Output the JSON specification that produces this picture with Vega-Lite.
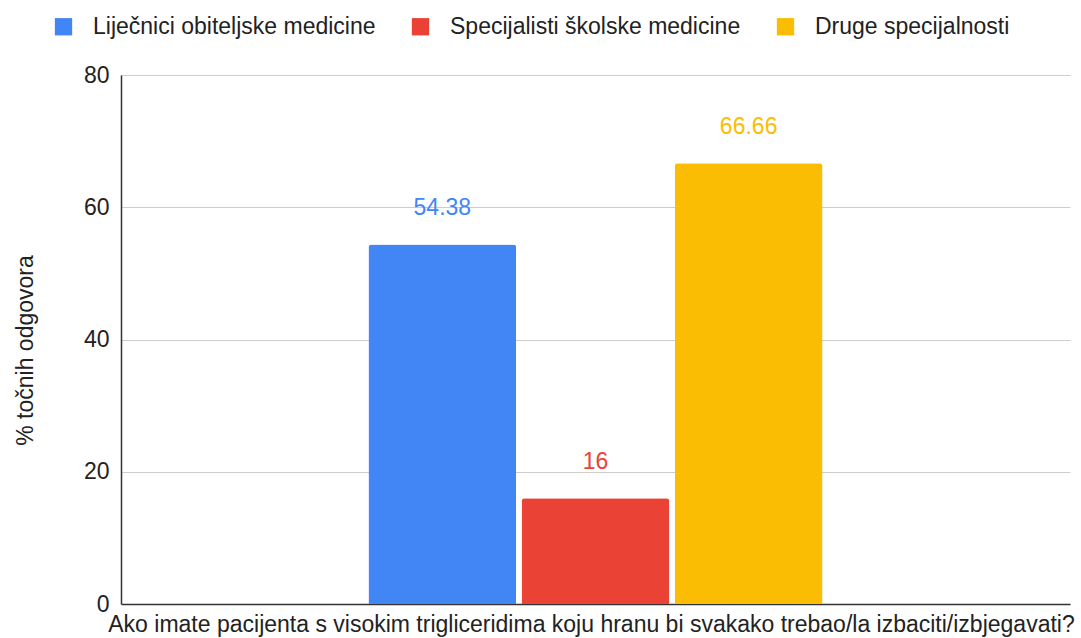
{
  "$schema": "https://vega.github.io/schema/vega-lite/v6.json",
  "width": 949,
  "height": 529,
  "autosize": "none",
  "padding": {"left": 121, "top": 75, "right": 11, "bottom": 34},
  "background": "white",
  "config": {
    "font": "Liberation Sans",
    "view": {"stroke": null}
  },
  "data": {
    "values": [
      {"pitanje": "Q", "skupina": "Liječnici obiteljske medicine", "postotak": 54.38, "oznaka": "54.38"},
      {"pitanje": "Q", "skupina": "Specijalisti školske medicine", "postotak": 16, "oznaka": "16"},
      {"pitanje": "Q", "skupina": "Druge specijalnosti", "postotak": 66.66, "oznaka": "66.66"}
    ]
  },
  "encoding": {
    "x": {
      "field": "pitanje",
      "type": "nominal",
      "scale": {"paddingInner": 0, "paddingOuter": 0.545},
      "axis": {
        "labels": false,
        "ticks": false,
        "domain": true,
        "domainColor": "#333333",
        "domainWidth": 1.5,
        "title": "Ako imate pacijenta s visokim trigliceridima koju hranu bi svakako trebao/la izbaciti/izbjegavati?",
        "titleFont": "Liberation Sans",
        "titleFontSize": 23,
        "titleFontWeight": "normal",
        "titleColor": "#222222",
        "titlePadding": 9,
        "titleX": 470
      }
    },
    "xOffset": {
      "field": "skupina",
      "type": "nominal",
      "sort": ["Liječnici obiteljske medicine", "Specijalisti školske medicine", "Druge specijalnosti"],
      "scale": {"paddingInner": 0.035, "paddingOuter": 0}
    },
    "y": {
      "field": "postotak",
      "type": "quantitative",
      "scale": {"domain": [0, 80], "nice": false},
      "axis": {
        "values": [0, 20, 40, 60, 80],
        "grid": true,
        "gridColor": "#cccccc",
        "gridWidth": 1,
        "ticks": false,
        "domain": true,
        "domainColor": "#333333",
        "domainWidth": 1.5,
        "labelFont": "Liberation Sans",
        "labelFontSize": 23,
        "labelColor": "#222222",
        "labelPadding": 12,
        "title": "% točnih odgovora",
        "titleFont": "Liberation Sans",
        "titleFontSize": 23,
        "titleFontWeight": "normal",
        "titleColor": "#222222",
        "titlePadding": 46,
        "titleY": 275
      }
    },
    "color": {
      "field": "skupina",
      "type": "nominal",
      "sort": ["Liječnici obiteljske medicine", "Specijalisti školske medicine", "Druge specijalnosti"],
      "scale": {
        "domain": ["Liječnici obiteljske medicine", "Specijalisti školske medicine", "Druge specijalnosti"],
        "range": ["#4285F4", "#EA4335", "#FBBC04"]
      },
      "legend": {
        "title": null,
        "orient": "none",
        "direction": "horizontal",
        "columns": 3,
        "legendX": -69,
        "legendY": -60,
        "symbolType": "square",
        "symbolSize": 300,
        "symbolStrokeWidth": 0,
        "labelFont": "Liberation Sans",
        "labelFontSize": 23,
        "labelColor": "#222222",
        "labelOffset": 18,
        "columnPadding": 33,
        "labelLimit": 400
      }
    }
  },
  "layer": [
    {
      "mark": {"type": "bar", "cornerRadiusTopLeft": 3, "cornerRadiusTopRight": 3}
    },
    {
      "mark": {"type": "text", "baseline": "middle", "dy": -36, "fontSize": 23, "font": "Liberation Sans"},
      "encoding": {
        "text": {"field": "oznaka", "type": "nominal"}
      }
    }
  ]
}
